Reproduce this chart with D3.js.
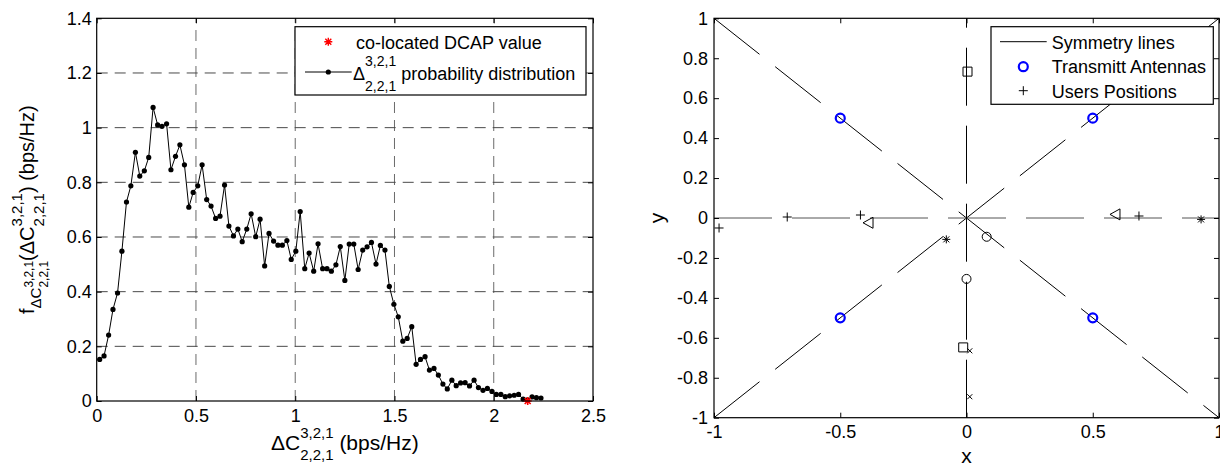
<!DOCTYPE html>
<html>
<head>
<meta charset="utf-8">
<script src="https://cdnjs.cloudflare.com/ajax/libs/d3/7.8.5/d3.min.js"></script>
<style>
body { margin: 0; background: #fff; }
svg text { font-family: "Liberation Sans", Arial, Helvetica, sans-serif; fill: #000; white-space: pre; }
</style>
</head>
<body>
<svg id="chart" width="1220" height="467"></svg>
<script>
// ---- left chart: probability distribution ----
var distX = [0.015, 0.037, 0.060, 0.082, 0.105, 0.127, 0.150, 0.172, 0.195, 0.217,
             0.240, 0.262, 0.284, 0.307, 0.329, 0.352, 0.374, 0.397, 0.419, 0.442,
             0.464, 0.486, 0.509, 0.531, 0.554, 0.576, 0.599, 0.621, 0.644, 0.666,
             0.689, 0.711, 0.733, 0.756, 0.778, 0.801, 0.823, 0.846, 0.868, 0.891,
             0.913, 0.935, 0.958, 0.980, 1.003, 1.025, 1.048, 1.070, 1.093, 1.115,
             1.138, 1.160, 1.182, 1.205, 1.227, 1.250, 1.272, 1.295, 1.317, 1.340,
             1.362, 1.384, 1.407, 1.429, 1.452, 1.474, 1.497, 1.519, 1.542, 1.564,
             1.587, 1.609, 1.631, 1.654, 1.676, 1.699, 1.721, 1.744, 1.766, 1.789,
             1.811, 1.833, 1.856, 1.878, 1.901, 1.923, 1.946, 1.968, 1.991, 2.013,
             2.036, 2.058, 2.080, 2.103, 2.125, 2.148, 2.170, 2.193, 2.215, 2.238];
var distY = [0.152, 0.165, 0.241, 0.335, 0.395, 0.548, 0.728, 0.787, 0.910, 0.823,
             0.842, 0.891, 1.074, 1.010, 1.005, 1.014, 0.846, 0.895, 0.937, 0.864,
             0.709, 0.763, 0.787, 0.864, 0.737, 0.713, 0.668, 0.676, 0.790, 0.640,
             0.604, 0.629, 0.583, 0.629, 0.685, 0.601, 0.665, 0.494, 0.613, 0.585,
             0.570, 0.570, 0.587, 0.518, 0.548, 0.693, 0.484, 0.541, 0.475, 0.575,
             0.484, 0.484, 0.475, 0.498, 0.565, 0.441, 0.574, 0.574, 0.481, 0.552,
             0.564, 0.580, 0.501, 0.569, 0.552, 0.419, 0.354, 0.308, 0.219, 0.229,
             0.272, 0.134, 0.152, 0.162, 0.113, 0.119, 0.095, 0.062, 0.044, 0.076,
             0.056, 0.066, 0.067, 0.055, 0.076, 0.049, 0.039, 0.046, 0.035, 0.024,
             0.024, 0.016, 0.019, 0.021, 0.024, 0.007, 0.004, 0.015, 0.012, 0.011];
var dcapX = [2.171];
var dcapY = [0];
var leftXTicks = [0, 0.5, 1, 1.5, 2, 2.5];
var leftYTicks = [0, 0.2, 0.4, 0.6, 0.8, 1, 1.2, 1.4];

// ---- right chart: antennas and users ----
var symX1 = [-1, -1, -1, 0];
var symY1 = [-1, 1, 0, -1];
var symX2 = [1, 1, 1, 0];
var symY2 = [1, -1, 0, 1];
var antennaX = [-0.5, 0.5, -0.5, 0.5];
var antennaY = [0.5, 0.5, -0.5, -0.5];
var userX = [-0.98, -0.71, -0.42, 0.683, -0.39, 0.588, 0.929, -0.08, 0.004, -0.013, 0.08, 0, 0.013, 0.013];
var userY = [-0.05, 0.005, 0.015, 0.01, -0.024, 0.018, -0.007, -0.107, 0.733, -0.648, -0.094, -0.305, -0.665, -0.895];
var userShape = ["plus", "plus", "plus", "plus", "tri", "tri", "star", "star", "square", "square", "circle", "circle", "times", "times"];
var rightXTicks = [-1, -0.5, 0, 0.5, 1];
var rightYTicks = [-1, -0.8, -0.6, -0.4, -0.2, 0, 0.2, 0.4, 0.6, 0.8, 1];

var svg = d3.select("#chart");

function markerPath(shape) {
    if (shape === "plus") return "M-4.5,0H4.5M0,-4.5V4.5";
    if (shape === "times") return "M-2.5,-2.5L2.5,2.5M-2.5,2.5L2.5,-2.5";
    if (shape === "star") return "M-4,0H4M0,-4V4M-3,-3L3,3M-3,3L3,-3";
    if (shape === "tri") return "M-5,0L5,-5.5L5,5.5Z";
    if (shape === "square") return "M-4.5,-4.5H4.5V4.5H-4.5Z";
    return "M4.5,0A4.5,4.5 0 1,1 -4.5,0A4.5,4.5 0 1,1 4.5,0Z";
}

// text with stacked super/subscripts, laid out piece by piece
function richText(parent, parts) {
    var g = parent.append("g");
    var cx = 0;
    parts.forEach(function (p) {
        var dy = p.dy || 0;
        if (p.stack) {
            var a = g.append("text").attr("x", cx).attr("y", dy + p.up).style("font-size", p.size + "px").text(p.stack[0]);
            var b = g.append("text").attr("x", cx).attr("y", dy + p.down).style("font-size", p.size + "px").text(p.stack[1]);
            cx += Math.max(a.node().getComputedTextLength(), b.node().getComputedTextLength());
        } else {
            var t = g.append("text").attr("x", cx).attr("y", dy).style("font-size", p.size + "px").text(p.text);
            cx += t.node().getComputedTextLength();
        }
    });
    return { g: g, width: cx };
}

function styleAxis(g) {
    g.select(".domain").remove();
    g.selectAll("text").style("font-size", "18px");
    g.selectAll("line").attr("stroke", "#000");
}

// ================= LEFT =================
var lx = d3.scaleLinear().domain([0, 2.5]).range([96.7, 593]);
var ly = d3.scaleLinear().domain([0, 1.4]).range([401, 18.3]);

// grid
svg.append("g").selectAll("line").data(leftXTicks.slice(1, -1)).enter().append("line")
    .attr("x1", d => lx(d)).attr("x2", d => lx(d)).attr("y1", ly(0)).attr("y2", ly(1.4))
    .attr("stroke", "#6a6a6a").attr("stroke-dasharray", "11,7");
svg.append("g").selectAll("line").data(leftYTicks.slice(1, -1)).enter().append("line")
    .attr("x1", lx(0)).attr("x2", lx(2.5)).attr("y1", d => ly(d)).attr("y2", d => ly(d))
    .attr("stroke", "#4a4a4a").attr("stroke-dasharray", "11,7");

var distLine = d3.line().x(d => lx(d[0])).y(d => ly(d[1]));
var distPts = distX.map((x, i) => [x, distY[i]]);
svg.append("path").attr("d", distLine(distPts)).attr("fill", "none").attr("stroke", "#000").attr("stroke-width", 1);
svg.append("g").selectAll("circle").data(distPts).enter().append("circle")
    .attr("cx", d => lx(d[0])).attr("cy", d => ly(d[1])).attr("r", 2.6).attr("fill", "#000");
svg.append("g").selectAll("path").data(dcapX).enter().append("path")
    .attr("transform", (d, i) => "translate(" + lx(d) + "," + ly(dcapY[i]) + ")")
    .attr("d", markerPath("star")).attr("stroke", "#f00").attr("stroke-width", 1.6).attr("fill", "none");

// axes
svg.append("g").attr("transform", "translate(0," + ly(0) + ")")
    .call(d3.axisBottom(lx).tickValues(leftXTicks).tickFormat(d => d).tickSize(-5).tickSizeOuter(0).tickPadding(8)).call(styleAxis);
svg.append("g").attr("transform", "translate(0," + ly(1.4) + ")")
    .call(d3.axisTop(lx).tickValues(leftXTicks).tickFormat("").tickSize(-5).tickSizeOuter(0)).call(styleAxis);
svg.append("g").attr("transform", "translate(" + lx(0) + ",0)")
    .call(d3.axisLeft(ly).tickValues(leftYTicks).tickFormat(d => d).tickSize(-5).tickSizeOuter(0).tickPadding(5)).call(styleAxis);
svg.append("g").attr("transform", "translate(" + lx(2.5) + ",0)")
    .call(d3.axisRight(ly).tickValues(leftYTicks).tickFormat("").tickSize(-5).tickSizeOuter(0)).call(styleAxis);
svg.append("rect").attr("x", lx(0)).attr("y", ly(1.4)).attr("width", lx(2.5) - lx(0)).attr("height", ly(0) - ly(1.4))
    .attr("fill", "none").attr("stroke", "#000").attr("stroke-width", 1.2);

// legend
var leg1 = svg.append("g");
leg1.append("rect").attr("x", 295).attr("y", 26.7).attr("width", 291).attr("height", 68.3)
    .attr("fill", "#fff").attr("stroke", "#000").attr("stroke-width", 1.2);
leg1.append("path").attr("transform", "translate(328.3,41.7)").attr("d", markerPath("star"))
    .attr("stroke", "#f00").attr("stroke-width", 1.4).attr("fill", "none");
leg1.append("text").attr("x", 356).attr("y", 49).style("font-size", "18px").text("co-located DCAP value");
leg1.append("line").attr("x1", 305).attr("x2", 351.7).attr("y1", 72).attr("y2", 72).attr("stroke", "#000");
leg1.append("circle").attr("cx", 328.3).attr("cy", 72).attr("r", 2.6).attr("fill", "#000");
var leg1t = richText(leg1, [
    { text: "\u0394", size: 18 },
    { stack: ["3,2,1", "2,2,1"], size: 14, up: -14, down: 11 },
    { text: " probability distribution", size: 18 }
]);
leg1t.g.attr("transform", "translate(353,80)");

// axis labels
var xl = richText(svg, [
    { text: "\u0394C", size: 21 },
    { stack: ["3,2,1", "2,2,1"], size: 15, up: -12, down: 10 },
    { text: " (bps/Hz)", size: 21 }
]);
xl.g.attr("transform", "translate(" + ((lx(0) + lx(2.5)) / 2 - xl.width / 2) + ",450)");

var ylWrap = svg.append("g").attr("transform", "translate(34," + ((ly(0) + ly(1.4)) / 2) + ") rotate(-90)");
var yl = richText(ylWrap, [
    { text: "f", size: 20 },
    { text: "\u0394C", size: 15, dy: 7 },
    { stack: ["3,2,1", "2,2,1"], size: 12, dy: 7, up: -8, down: 7 },
    { text: "(\u0394C", size: 20 },
    { stack: ["3,2,1", "2,2,1"], size: 15, up: -12, down: 10 },
    { text: ") (bps/Hz)", size: 20 }
]);
yl.g.attr("transform", "translate(" + (-yl.width / 2) + ",0)");

// ================= RIGHT =================
var rx = d3.scaleLinear().domain([-1, 1]).range([714, 1219]);
var ry = d3.scaleLinear().domain([-1, 1]).range([417.7, 18.3]);

svg.append("g").selectAll("line").data(symX1).enter().append("line")
    .attr("x1", d => rx(d)).attr("y1", (d, i) => ry(symY1[i]))
    .attr("x2", (d, i) => rx(symX2[i])).attr("y2", (d, i) => ry(symY2[i]))
    .attr("stroke", (d, i) => symY1[i] === 0 && symY2[i] === 0 ? "#555" : "#000")
    .attr("stroke-width", 1).attr("stroke-dasharray", "58,20");

svg.append("g").selectAll("path").data(userX).enter().append("path")
    .attr("transform", (d, i) => "translate(" + rx(d) + "," + ry(userY[i]) + ")")
    .attr("d", (d, i) => markerPath(userShape[i]))
    .attr("fill", "none").attr("stroke", "#000").attr("stroke-width", 1);

svg.append("g").selectAll("circle").data(antennaX).enter().append("circle")
    .attr("cx", d => rx(d)).attr("cy", (d, i) => ry(antennaY[i])).attr("r", 4.5)
    .attr("fill", "none").attr("stroke", "#0000ff").attr("stroke-width", 2.2);

svg.append("g").attr("transform", "translate(0," + ry(-1) + ")")
    .call(d3.axisBottom(rx).tickValues(rightXTicks).tickFormat(d => d).tickSize(-5).tickSizeOuter(0).tickPadding(8)).call(styleAxis);
svg.append("g").attr("transform", "translate(0," + ry(1) + ")")
    .call(d3.axisTop(rx).tickValues(rightXTicks).tickFormat("").tickSize(-5).tickSizeOuter(0)).call(styleAxis);
svg.append("g").attr("transform", "translate(" + rx(-1) + ",0)")
    .call(d3.axisLeft(ry).tickValues(rightYTicks).tickFormat(d => d).tickSize(-5).tickSizeOuter(0).tickPadding(6)).call(styleAxis);
svg.append("g").attr("transform", "translate(" + rx(1) + ",0)")
    .call(d3.axisRight(ry).tickValues(rightYTicks).tickFormat("").tickSize(-5).tickSizeOuter(0)).call(styleAxis);
svg.append("rect").attr("x", rx(-1)).attr("y", ry(1)).attr("width", rx(1) - rx(-1)).attr("height", ry(-1) - ry(1))
    .attr("fill", "none").attr("stroke", "#000").attr("stroke-width", 1.2);

// legend
var leg2 = svg.append("g");
leg2.append("rect").attr("x", 991).attr("y", 26.7).attr("width", 222.3).attr("height", 77.6)
    .attr("fill", "#fff").attr("stroke", "#000").attr("stroke-width", 1.2);
leg2.append("line").attr("x1", 1000).attr("x2", 1046.7).attr("y1", 41.7).attr("y2", 41.7).attr("stroke", "#000");
leg2.append("circle").attr("cx", 1023.3).attr("cy", 66.7).attr("r", 4.5)
    .attr("fill", "none").attr("stroke", "#0000ff").attr("stroke-width", 2.2);
leg2.append("path").attr("transform", "translate(1023.3,90.7)").attr("d", markerPath("plus"))
    .attr("stroke", "#000").attr("fill", "none");
leg2.append("text").attr("x", 1051.7).attr("y", 48.5).style("font-size", "18px").text("Symmetry lines");
leg2.append("text").attr("x", 1051.7).attr("y", 73).style("font-size", "18px").text("Transmitt Antennas");
leg2.append("text").attr("x", 1051.7).attr("y", 97.5).style("font-size", "18px").text("Users Positions");

svg.append("text").attr("x", (rx(-1) + rx(1)) / 2).attr("y", 463).attr("text-anchor", "middle")
    .style("font-size", "21px").text("x");
svg.append("text").attr("transform", "translate(664," + ((ry(-1) + ry(1)) / 2) + ") rotate(-90)")
    .attr("text-anchor", "middle").style("font-size", "21px").text("y");
</script>
</body>
</html>
